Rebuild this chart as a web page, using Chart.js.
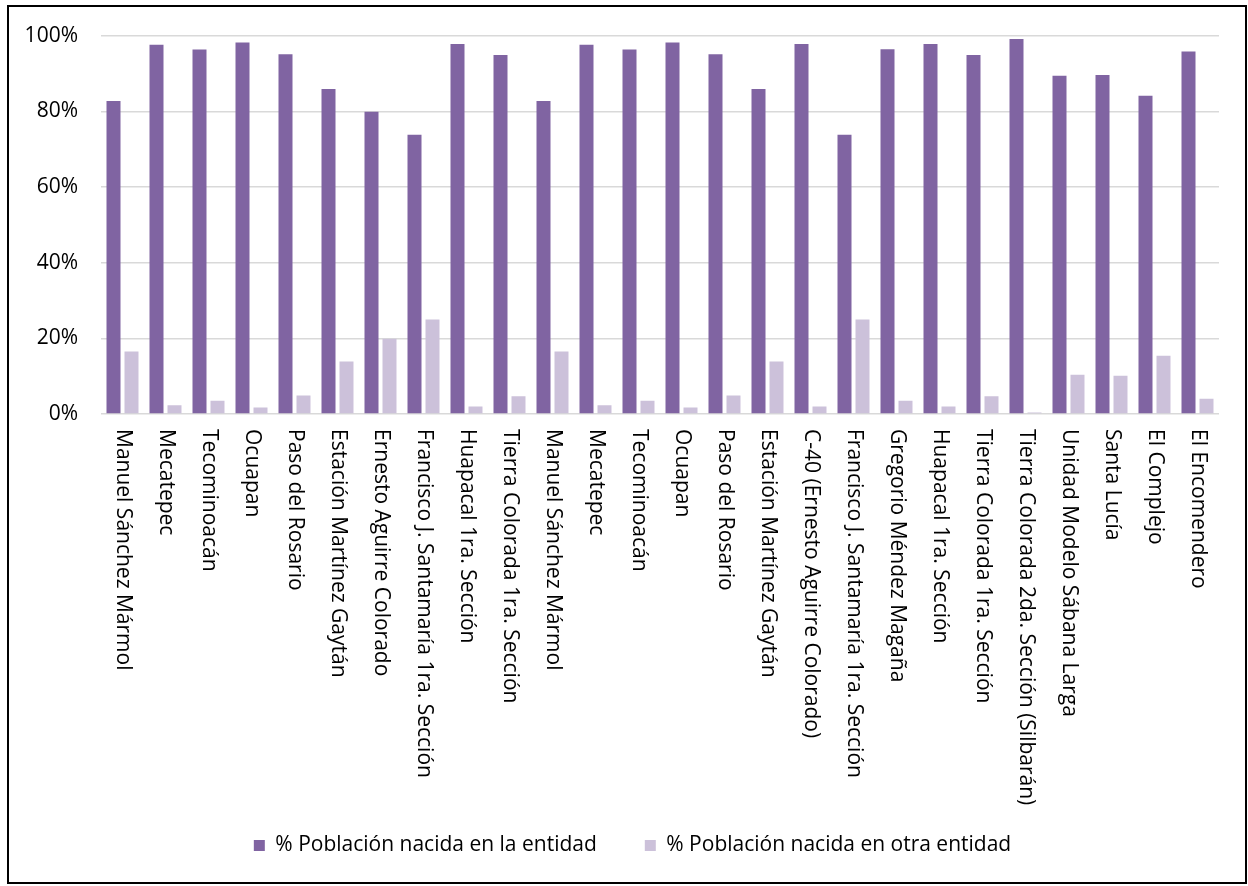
<!DOCTYPE html>
<html lang="es">
<head>
<meta charset="utf-8">
<title>Población nacida en la entidad y en otra entidad</title>
<script src="https://cdn.jsdelivr.net/npm/chart.js@4.4.1/dist/chart.umd.min.js"></script>
<style>
  html, body { margin: 0; padding: 0; background: #ffffff; }
  #wrap { position: relative; width: 1248px; height: 886px; }
  canvas { display: block; }
</style>
</head>
<body>
<div id="wrap"><canvas id="chart" width="1248" height="886"></canvas></div>
<script>
// Localidades
const localidades = [
  'Manuel Sánchez Mármol',
  'Mecatepec',
  'Tecominoacán',
  'Ocuapan',
  'Paso del Rosario',
  'Estación Martínez Gaytán',
  'Ernesto Aguirre Colorado',
  'Francisco J. Santamaría 1ra. Sección',
  'Huapacal 1ra. Sección',
  'Tierra Colorada 1ra. Sección',
  'Manuel Sánchez Mármol',
  'Mecatepec',
  'Tecominoacán',
  'Ocuapan',
  'Paso del Rosario',
  'Estación Martínez Gaytán',
  'C-40 (Ernesto Aguirre Colorado)',
  'Francisco J. Santamaría 1ra. Sección',
  'Gregorio Méndez Magaña',
  'Huapacal 1ra. Sección',
  'Tierra Colorada 1ra. Sección',
  'Tierra Colorada 2da. Sección (Silbarán)',
  'Unidad Modelo Sábana Larga',
  'Santa Lucía',
  'El Complejo',
  'El Encomendero'
];

// % de población nacida en la entidad
const nacidaEntidad = [
  82.7, 97.6, 96.3, 98.2, 95.1, 85.9, 79.9, 73.8, 97.8, 94.9,
  82.7, 97.6, 96.3, 98.2, 95.1, 85.9, 97.8, 73.8, 96.4, 97.8,
  94.9, 99.1, 89.4, 89.6, 84.1, 95.8
];

// % de población nacida en otra entidad
const nacidaOtraEntidad = [
  16.5, 2.3, 3.5, 1.7, 4.9, 13.9, 19.9, 25.0, 2.0, 4.7,
  16.5, 2.3, 3.5, 1.7, 4.9, 13.9, 2.0, 25.0, 3.5, 2.0,
  4.7, 0.4, 10.4, 10.1, 15.4, 4.0
];

const serieNombres = ['% Población nacida en la entidad', '% Población nacida en otra entidad'];
const yTicks = [0, 20, 40, 60, 80, 100];

const FONT = "'Open Sans', 'DejaVu Sans', sans-serif";
const FONT_SIZE = 21;

// Category labels read top-to-bottom, hung under each category
const verticalLabels = {
  id: 'verticalLabels',
  afterDraw(chart) {
    const xs = chart.scales.x;
    const ctx = chart.ctx;
    ctx.save();
    ctx.font = FONT_SIZE + 'px ' + FONT;
    ctx.fillStyle = '#000000';
    ctx.textAlign = 'left';
    ctx.textBaseline = 'middle';
    chart.data.labels.forEach((lbl, i) => {
      const x = xs.getPixelForValue(i);
      ctx.save();
      ctx.translate(x, xs.top + 15);
      ctx.rotate(Math.PI / 2);
      ctx.fillText(lbl, 0, 0);
      ctx.restore();
    });
    ctx.restore();
  }
};

// Nudge the legend row a little to the right of the page centre
const legendShift = {
  id: 'legendShift',
  afterLayout(chart) {
    const lg = chart.legend;
    if (lg) { lg.left += 23; lg.right += 23; }
  }
};

// Outer frame of the chart
const frame = {
  id: 'frame',
  beforeDraw(chart) {
    const ctx = chart.ctx;
    ctx.save();
    ctx.fillStyle = '#ffffff';
    ctx.fillRect(0, 0, chart.width, chart.height);
    ctx.strokeStyle = '#000000';
    ctx.lineWidth = 2;
    ctx.strokeRect(8, 6, 1238, 877);
    ctx.restore();
  }
};

new Chart(document.getElementById('chart'), {
  type: 'bar',
  data: {
    labels: localidades,
    datasets: [
      {
        label: serieNombres[0],
        data: nacidaEntidad,
        backgroundColor: '#8064a2',
        barPercentage: 0.778,
        categoryPercentage: 0.837
      },
      {
        label: serieNombres[1],
        data: nacidaOtraEntidad,
        backgroundColor: '#ccc1da',
        barPercentage: 0.778,
        categoryPercentage: 0.837
      }
    ]
  },
  options: {
    responsive: false,
    animation: false,
    devicePixelRatio: 1,
    layout: { padding: { left: 0, right: 29, top: 35, bottom: 20 } },
    scales: {
      x: {
        grid: { display: false },
        border: { display: false },
        ticks: { display: false },
        afterFit(scale) { scale.height = 373; }
      },
      y: {
        min: 0,
        max: 100,
        afterBuildTicks(scale) { scale.ticks = yTicks.map(v => ({ value: v })); },
        afterFit(scale) { scale.width = 101; },
        border: { display: false },
        grid: { color: '#d9d9d9', lineWidth: 1.5, drawTicks: false },
        ticks: {
          padding: 23,
          color: '#000000',
          font: { family: FONT, size: FONT_SIZE },
          callback: v => v + '%'
        }
      }
    },
    plugins: {
      tooltip: { enabled: false },
      legend: {
        position: 'bottom',
        labels: {
          boxWidth: 11,
          boxHeight: 11,
          padding: 48,
          color: '#000000',
          font: { family: FONT, size: FONT_SIZE }
        }
      }
    }
  },
  plugins: [frame, verticalLabels, legendShift]
});
</script>
</body>
</html>
